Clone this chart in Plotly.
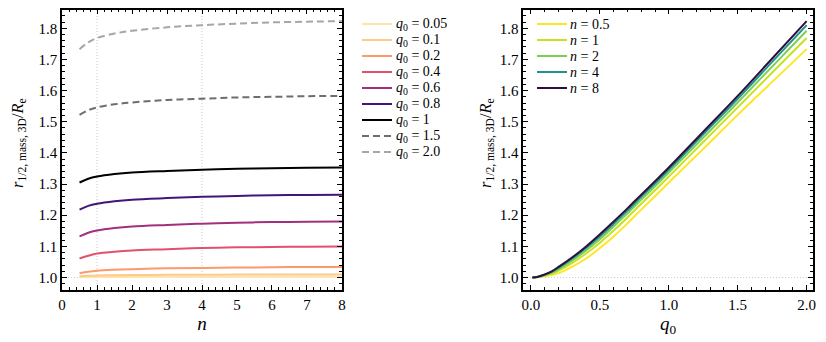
import plotly.graph_objects as go

# left panel: r_half_3D / Re against Sersic n, one curve per q0
n_vals = [0.5, 0.75, 1, 1.5, 2, 3, 4, 5, 6, 7, 8]
q0_labels = ['0.05', '0.1', '0.2', '0.4', '0.6', '0.8', '1', '1.5', '2.0']
ratio_q005 = [1.001, 1.0014, 1.0017, 1.0019, 1.0021, 1.0023, 1.0024, 1.0025, 1.0026, 1.0027, 1.0027]
ratio_q01 = [1.004, 1.0054, 1.0064, 1.0074, 1.008, 1.0087, 1.0092, 1.0095, 1.0097, 1.0099, 1.010]
ratio_q02 = [1.014, 1.019, 1.022, 1.025, 1.027, 1.030, 1.031, 1.032, 1.033, 1.034, 1.034]
ratio_q04 = [1.061, 1.070, 1.077, 1.083, 1.087, 1.091, 1.095, 1.097, 1.098, 1.099, 1.100]
ratio_q06 = [1.132, 1.144, 1.151, 1.159, 1.164, 1.169, 1.173, 1.176, 1.178, 1.179, 1.180]
ratio_q08 = [1.218, 1.230, 1.237, 1.245, 1.250, 1.255, 1.259, 1.262, 1.264, 1.265, 1.266]
ratio_q10 = [1.305, 1.317, 1.324, 1.332, 1.337, 1.342, 1.346, 1.349, 1.351, 1.352, 1.353]
ratio_q15 = [1.522, 1.537, 1.546, 1.556, 1.562, 1.570, 1.574, 1.578, 1.580, 1.582, 1.583]
ratio_q20 = [1.733, 1.755, 1.769, 1.783, 1.792, 1.803, 1.810, 1.815, 1.819, 1.821, 1.823]
left_series = [ratio_q005, ratio_q01, ratio_q02, ratio_q04, ratio_q06,
               ratio_q08, ratio_q10, ratio_q15, ratio_q20]
left_colors = ['#fde5a7', '#fec98d', '#fb9a6a', '#e3506b', '#a3307e',
               '#40167a', '#000000', '#6e6e6e', '#a6a6a6']
DASHED = '7px,4px'
left_dash = ['solid'] * 7 + [DASHED, DASHED]

# right panel: against q0, one curve per n
q0_vals = [0.01, 0.05, 0.1, 0.15, 0.2, 0.3, 0.4, 0.5, 0.6, 0.7, 0.8, 0.9,
           1.0, 1.25, 1.5, 1.75, 2.0]
n_labels = ['0.5', '1', '2', '4', '8']
ratio_n05 = [1.0, 1.001, 1.004, 1.008, 1.014, 1.035, 1.061, 1.095, 1.132, 1.174,
             1.218, 1.261, 1.305, 1.413, 1.522, 1.628, 1.733]
ratio_n1 = [1.0, 1.0017, 1.0064, 1.0125, 1.022, 1.047, 1.077, 1.112, 1.151, 1.193,
            1.237, 1.280, 1.324, 1.435, 1.546, 1.658, 1.769]
ratio_n2 = [1.0, 1.002, 1.008, 1.015, 1.027, 1.055, 1.087, 1.123, 1.164, 1.206,
            1.250, 1.293, 1.337, 1.449, 1.562, 1.677, 1.792]
ratio_n4 = [1.0, 1.0024, 1.0092, 1.018, 1.031, 1.061, 1.095, 1.132, 1.173, 1.215,
            1.259, 1.302, 1.346, 1.460, 1.574, 1.692, 1.810]
ratio_n8 = [1.0, 1.0027, 1.010, 1.020, 1.034, 1.065, 1.100, 1.139, 1.180, 1.222,
            1.266, 1.309, 1.353, 1.468, 1.583, 1.703, 1.823]
right_series = [ratio_n05, ratio_n1, ratio_n2, ratio_n4, ratio_n8]
right_colors = ['#fde725', '#c8e020', '#7ad151', '#21918c', '#2f0f3d']

FONT = "'Liberation Serif', 'Times New Roman', serif"
W, H = 826, 342
fig = go.Figure()

for ys, col, dsh in zip(left_series, left_colors, left_dash):
    fig.add_trace(go.Scatter(
        x=n_vals, y=ys, mode='lines', line_shape='spline',
        line=dict(color=col, width=2, dash=dsh),
        xaxis='x', yaxis='y', showlegend=False
    ))

for ys, col in zip(right_series, right_colors):
    fig.add_trace(go.Scatter(
        x=q0_vals, y=ys, mode='lines', line_shape='spline',
        line=dict(color=col, width=2),
        xaxis='x2', yaxis='y2', showlegend=False
    ))

# dotted reference lines
dot = dict(color='#c8c8c8', width=1, dash='1px,2px')
fig.add_shape(type='line', xref='x', yref='y', x0=0, x1=8, y0=1, y1=1, line=dot, layer='below')
fig.add_shape(type='line', xref='x', yref='y', x0=1, x1=1, y0=0.96, y1=1.86, line=dot, layer='below')
fig.add_shape(type='line', xref='x', yref='y', x0=4, x1=4, y0=0.96, y1=1.86, line=dot, layer='below')
fig.add_shape(type='line', xref='x2', yref='y2', x0=-0.05, x1=2.05, y0=1, y1=1, line=dot, layer='below')


# legends drawn by hand so the row spacing matches the original
def add_legend(labels, colors, dashes, x_line, x_text, y_top, step=16):
    for i, (lab, col, dsh) in enumerate(zip(labels, colors, dashes)):
        yy = 1 - (y_top + step * i) / H
        fig.add_shape(type='line', xref='paper', yref='paper',
                      x0=x_line / W, x1=(x_line + 30) / W, y0=yy, y1=yy,
                      line=dict(color=col, width=2, dash=dsh))
        fig.add_annotation(xref='paper', yref='paper', x=x_text / W, y=yy,
                           xanchor='left', yanchor='middle', showarrow=False,
                           text=lab, font=dict(family=FONT, size=14, color='black'))


add_legend([f'<i>q</i><sub>0</sub> = {v}' for v in q0_labels], left_colors, left_dash,
           362, 394, 24)
add_legend([f'<i>n</i> = {v}' for v in n_labels], right_colors, ['solid'] * 5,
           537, 568, 24)

# rotated y titles, placed as annotations
ytitle = '<i>r</i><sub>1/2, mass, 3D</sub>/<i>R</i><sub>e</sub>'
for xpx in (18, 486):
    fig.add_annotation(xref='paper', yref='paper', x=xpx / W, y=1 - 143 / H,
                       xanchor='center', yanchor='middle', showarrow=False,
                       textangle=-90, text=ytitle,
                       font=dict(family=FONT, size=16.5, color='black'))

ax_common = dict(
    showline=True, linecolor='black', linewidth=1.5, mirror='allticks',
    ticks='inside', ticklen=5, tickwidth=1, tickcolor='black',
    showgrid=False, zeroline=False, automargin=False,
    tickfont=dict(family=FONT, size=15, color='black'),
)
tfont = dict(family=FONT, size=19, color='black')

fig.update_layout(
    width=W, height=H,
    margin=dict(l=0, r=0, t=0, b=0),
    paper_bgcolor='white', plot_bgcolor='white',
    font=dict(family=FONT, color='black'),
    showlegend=False,
    xaxis=dict(domain=[0.0751, 0.414], range=[0, 8], dtick=1, tick0=0,
               minor=dict(ticks='inside', ticklen=3, dtick=0.2, tickcolor='black'),
               title=dict(text='<i>n</i>', font=tfont, standoff=4),
               **ax_common),
    yaxis=dict(domain=[0.152, 0.972], range=[0.96, 1.86], dtick=0.1, tick0=1.0,
               tickformat='.1f',
               minor=dict(ticks='inside', ticklen=3, dtick=0.02, tickcolor='black'),
               **ax_common),
    xaxis2=dict(domain=[0.6335, 0.9839], range=[-0.056, 2.044], dtick=0.5, tick0=0,
                tickformat='.1f', anchor='y2',
                minor=dict(ticks='inside', ticklen=3, dtick=0.1, tickcolor='black'),
                title=dict(text='<i>q</i><sub>0</sub>', font=tfont, standoff=4),
                **ax_common),
    yaxis2=dict(domain=[0.152, 0.972], range=[0.96, 1.86], dtick=0.1, tick0=1.0,
                tickformat='.1f', anchor='x2',
                minor=dict(ticks='inside', ticklen=3, dtick=0.02, tickcolor='black'),
                **ax_common),
)

fig.write_html('out.html', config={'displayModeBar': False},
               post_script="document.body.style.margin='0px';")
